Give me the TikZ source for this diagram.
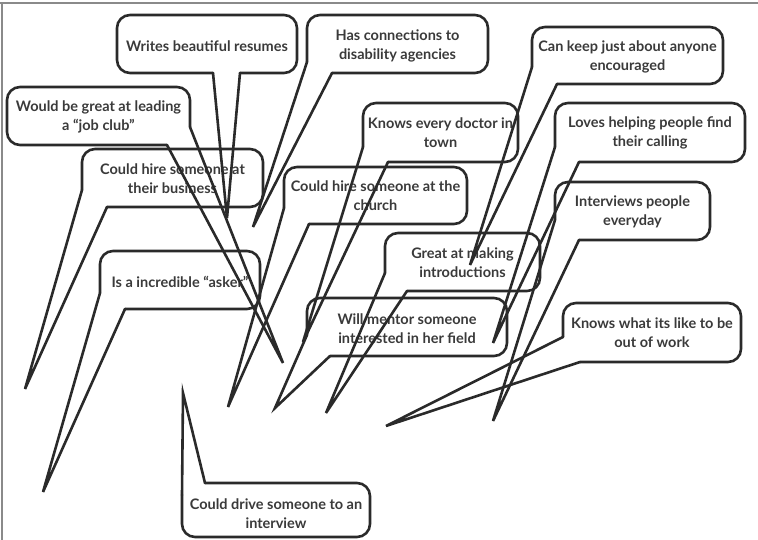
\documentclass[tikz,border=0pt]{standalone}
\usepackage{fontspec}
\setmainfont{Lato}
\definecolor{linec}{HTML}{2A2A2A}
\definecolor{txtc}{HTML}{3A3A3A}
\definecolor{framec}{HTML}{8A8A8A}
\begin{document}
\begin{tikzpicture}[x=1pt,y=-1pt,
  box/.style={draw=linec, line width=2.6pt, rounded corners=13pt, line cap=round},
  tail/.style={draw=linec, line width=2.6pt, line cap=round},
  lbl/.style={text=txtc, font=\bfseries\fontsize{14.5}{19}\selectfont, align=center, inner sep=0pt}]
\useasboundingbox (0,0) rectangle (758,540);
% frame
\coordinate (fa) at (0,3);
\coordinate (fb) at (758,3);
\coordinate (fc) at (1.5,540);
\draw[framec, line width=2pt] (fb) -- (fa);
\draw[framec, line width=2pt] (1.5,3) -- (fc);
% tips
\coordinate (t1) at (227,218);
\coordinate (t2) at (253,227);
\coordinate (t3) at (283,363);
\coordinate (t4) at (25,389);
\coordinate (t5) at (303,342);
\coordinate (t6) at (228,407);
\coordinate (t7) at (470,265);
\coordinate (t8) at (493,343);
\coordinate (t9) at (493,421);
\coordinate (t10) at (326,413);
\coordinate (t11) at (275,408);
\coordinate (t12) at (386,426);
\coordinate (t13) at (43,492);
\coordinate (t14) at (183,393);
% texts
\node[lbl] (n1) at (207,46) {Writes beautiful resumes};
\node[lbl] (n2) at (397.5,46) {Has connections to\\disability agencies};
\node[lbl] (n3) at (98.5,117) {Would be great at leading\\a “job club”};
\node[lbl] (n4) at (172.5,179) {Could hire someone at\\their business};
\node[lbl] (n5) at (440.5,133) {Knows every doctor in\\town};
\node[lbl] (n6) at (375.5,196) {Could hire someone at the\\church};
\node[lbl] (n7) at (627.5,56.5) {Can keep just about anyone\\encouraged};
\node[lbl] (n8) at (650,133) {Loves helping people find\\their calling};
\node[lbl] (n9) at (632.5,211.5) {Interviews people\\everyday};
\node[lbl] (n10) at (462.5,263) {Great at making\\introductions};
\node[lbl] (n11) at (407,328.5) {Will mentor someone\\interested in her field};
\node[lbl] (n12) at (652,333) {Knows what its like to be\\out of work};
\node[lbl] (n13) at (180,282) {Is a incredible “asker”};
\node[lbl] (n14) at (276,513.5) {Could drive someone to an\\interview};
% bubbles
\draw[box] (240,73) -- (297,73) -- (297,15) -- (117,15) -- (117,73) -- (213,73);
\draw[tail] (213,73) -- (t1) -- (240,73);
\draw[box] (332,73) -- (488,73) -- (488,15) -- (307,15) -- (307,62);
\draw[tail] (307,62) -- (t2) -- (332,73);
\draw[box] (167,145) -- (7,145) -- (7,87) -- (190,87) -- (190,127);
\draw[tail] (190,127) -- (t3) -- (167,145);
\draw[box] (107,207) -- (263,207) -- (263,149) -- (82,149) -- (82,190);
\draw[tail] (82,190) -- (t4) -- (107,207);
\draw[box] (388,162) -- (518,162) -- (518,103) -- (363,103) -- (363,147);
\draw[tail] (363,147) -- (t5) -- (388,162);
\draw[box] (309,224) -- (467,224) -- (467,167) -- (284,167) -- (284,208);
\draw[tail] (284,208) -- (t6) -- (309,224);
\draw[box] (557,84) -- (723,84) -- (723,27) -- (532,27) -- (532,67);
\draw[tail] (532,67) -- (t7) -- (557,84);
\draw[box] (579,162) -- (745,162) -- (745,103) -- (555,103) -- (555,147);
\draw[tail] (555,147) -- (t8) -- (579,162);
\draw[box] (579,240) -- (710,240) -- (710,182) -- (555,182) -- (555,220);
\draw[tail] (555,220) -- (t9) -- (579,240);
\draw[box] (407,291) -- (540,291) -- (540,233) -- (385,233) -- (385,273);
\draw[tail] (385,273) -- (t10) -- (407,291);
\draw[box] (330,356) -- (507,356) -- (507,298) -- (307,298) -- (307,335);
\draw[tail] (307,335) -- (t11) -- (330,356);
\draw[box] (580,362) -- (741,362) -- (741,303) -- (563,303) -- (563,337);
\draw[tail] (563,337) -- (t12) -- (580,362);
\draw[box] (125,309) -- (260,309) -- (260,251) -- (100,251) -- (100,293);
\draw[tail] (100,293) -- (t13) -- (125,309);
\draw[box] (205,483) -- (370,483) -- (370,537) -- (182,537) -- (182,495);
\draw[tail] (182,495) -- (t14) -- (205,483);
\end{tikzpicture}
\end{document}
